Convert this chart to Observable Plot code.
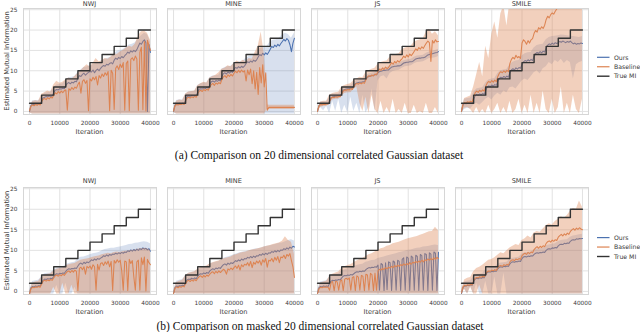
<!DOCTYPE html>
<html><head><meta charset="utf-8">
<script src="https://cdn.jsdelivr.net/npm/d3@7"></script>
<script src="https://cdn.jsdelivr.net/npm/@observablehq/plot@0.6"></script>
<style>
body{margin:0;background:#fff;}
#root{position:relative;width:640px;height:332px;overflow:hidden;background:#fff;}
#root svg.plot{position:absolute;}
#overlay{position:absolute;left:0;top:0;}
</style></head><body><div id="root"></div>
<script>
// ---------- tick labels / categories ----------
const ESTIMATORS = ["NWJ", "MINE", "JS", "SMILE"];
const SERIES = ["Ours", "Baseline", "True MI"];
const X_TICKS = [0, 10000, 20000, 30000, 40000];
const Y_TICKS = [0, 5, 10, 15, 20, 25];
const CAPTIONS = ["(a) Comparison on 20 dimensional correlated Gaussian dataset",
                  "(b) Comparison on masked 20 dimensional correlated Gaussian dataset"];
// iterations: mean curves every 500, confidence bands every 1000
const ITER = d3.range(0, 40001, 500);
const ITER_B = d3.range(0, 40001, 1000);
// true MI staircase
const TRUE_ITER = [0, 4000, 8000, 12000, 16000, 20000, 24000, 28000, 32000, 36000, 40000];
const TRUE_MI   = [2, 4, 6, 8, 10, 12, 14, 16, 18, 20, 20];

const FLOOR = [-0.3,-0.6,-0.6,-0.6, -0.6,-0.6,-0.6,-0.6, -0.6,-0.6,-0.6,-0.6, -0.6,-0.6,-0.6,-0.6,
  -0.6,-0.6,-0.6,-0.6, -0.6,-0.6,-0.6,-0.6, -0.6,-0.6,-0.6,-0.6, -0.6,-0.6,-0.6,-0.6,
  -0.6,-0.6,-0.6,-0.6, -0.6,-0.6,-0.6,-0.6, -0.6];

// ===== (a) top row =====
const T_NWJ_OURS = [0.0,1.5,1.8,1.7,1.9,1.8,1.9,1.8, 2.6,3.3,3.5,3.7,3.6,3.8,3.7,3.8,
  4.6,5.2,5.4,5.3,5.6,5.5,5.7,5.6, 6.4,6.9,7.1,6.8,7.2,7.0,7.4,7.3,
  8.2,8.8,8.6,9.1,9.4,8.9,9.3,9.6, 9.8,9.7,10.2,9.5,10.1,10.4,10.0,10.6,
  11.0,11.3,11.1,11.6,11.4,11.8,12.0,11.7, 12.6,13.1,12.8,13.3,13.0,13.5,13.2,13.7,
  14.1,14.6,14.3,14.9,14.6,15.0,14.7,15.2, 16.0,16.8,16.5,17.2,17.6,16.9,0.0,16.5, 14.5];
const T_NWJ_OURS_HI = [0.5,2.6,2.7,2.6, 3.5,4.5,4.6,4.7, 5.8,6.5,6.6,6.8, 7.6,8.3,8.4,8.6,
  9.6,10.2,10.8,10.9, 11.2,11.5,11.7,11.9, 12.5,12.8,13.1,13.4, 14.2,14.8,14.9,15.2,
  15.8,16.3,16.5,16.9, 17.8,18.6,19.2,18.9, 17.0];
const T_NWJ_BASE = [0.2,1.3,1.6,1.4,1.7,1.5,1.8,1.6, 2.4,3.0,3.2,2.9,3.4,3.1,3.5,3.3,
  4.0,4.6,4.3,4.9,4.5,5.0,4.6,5.1, 5.3,0.3,5.6,5.2,5.9,5.4,6.0,5.7,
  6.6,7.2,4.5,7.4,7.8,6.9,7.6,0.2, 8.0,7.5,8.4,7.8,8.6,6.5,8.8,8.2,
  9.2,8.6,9.5,8.9,9.8,0.2,10.1,9.4, 0.5,10.6,11.2,10.3,11.6,10.8,12.0,0.3,
  11.8,12.4,0.2,12.8,13.2,12.5,13.6,12.9, 0.3,14.5,15.8,0.4,17.2,0.1,17.5,16.2, 15.0];
const T_NWJ_BASE_HI = [0.6,2.4,2.6,2.5, 4.2,4.6,5.0,4.8, 6.5,7.4,6.9,7.2, 7.8,8.2,8.0,8.6,
  9.4,10.0,10.8,11.5, 11.0,11.8,13.0,12.2, 12.4,13.0,12.8,13.4, 14.2,14.0,14.6,15.0,
  15.6,16.0,15.8,16.6, 18.5,19.6,19.8,19.2, 17.5];

const T_MINE_OURS = [0.0,1.6,1.9,1.8,2.0,1.9,2.0,1.9, 2.8,3.6,3.8,3.7,3.9,3.8,3.9,3.8,
  4.8,5.5,5.6,5.5,5.8,5.6,5.9,5.7, 6.6,7.3,7.5,7.2,7.6,7.4,7.7,7.5,
  8.6,9.3,9.5,9.2,9.7,9.4,9.8,9.6, 10.4,10.8,10.6,11.0,10.7,11.1,10.8,11.2,
  11.8,12.2,12.0,12.4,12.1,12.6,12.3,12.7, 13.4,14.0,13.7,14.3,13.9,14.4,14.0,14.6,
  15.3,16.0,15.7,16.3,15.9,16.5,16.1,16.7, 17.2,17.7,17.3,17.9,17.5,16.4,14.7,16.8, 18.0];
const T_MINE_OURS_HI = [0.4,2.7,2.9,2.8, 4.2,4.8,4.9,4.9, 6.4,6.8,7.0,7.0, 8.3,8.7,8.8,8.9,
  10.4,10.8,11.0,11.1, 11.8,12.1,12.2,12.4, 13.1,13.5,13.6,13.9, 15.2,15.6,15.8,16.0,
  17.1,17.5,17.6,18.0, 18.8,19.2,18.9,18.0, 19.3];
const T_MINE_BASE = [0.1,1.4,1.7,1.6,1.8,1.7,1.9,1.7, 2.6,3.3,3.5,3.3,3.6,3.4,3.7,3.5,
  4.4,5.0,5.2,4.9,5.4,5.1,5.5,5.2, 6.0,6.6,6.9,6.4,7.0,6.7,7.1,6.8,
  7.9,8.5,8.8,8.3,9.0,8.6,9.1,8.7, 9.4,9.9,9.5,10.1,9.6,10.2,9.7,10.0,
  7.5,10.2,9.0,10.4,6.8,10.0,5.5,9.6, 4.2,10.8,7.0,11.5,6.0,9.5,0.3,1.0,
  1.0,1.0,1.0,1.0,1.0,1.0,1.0,1.0, 1.0,1.0,1.0,1.0,1.0,1.0,1.0,1.0, 1.0];
const T_MINE_BASE_HI = [0.5,2.5,2.8,2.7, 4.3,4.8,4.9,5.0, 6.3,6.8,7.2,7.0, 8.2,8.6,8.9,9.5,
  10.4,10.6,11.2,11.0, 11.8,12.4,12.0,12.6, 12.2,13.0,12.8,14.5, 16.0,19.5,14.0,1.6,
  1.5,1.5,1.5,1.5, 1.5,1.5,1.5,1.5, 1.5];
const T_MINE_BASE_LO = [-0.2,-0.6,-0.6,-0.6, -0.6,-0.6,-0.6,-0.6, -0.6,-0.6,-0.6,-0.6, -0.6,-0.6,-0.6,-0.6,
  -0.6,-0.6,-0.6,-0.6, -0.6,-0.6,-0.6,-0.6, -0.6,-0.6,-0.6,-0.6, -0.6,-0.6,-0.6,0.5,
  0.5,0.5,0.5,0.5, 0.5,0.5,0.5,0.5, 0.5];

const T_JS_OURS = [0.0,1.5,1.8,1.8,1.9,1.9,1.9,1.9, 2.6,3.4,3.6,3.7,3.7,3.8,3.8,3.8,
  4.5,5.2,5.4,5.5,5.6,5.6,5.7,5.7, 6.3,6.8,7.0,7.1,7.2,7.2,7.3,7.3,
  7.9,8.4,8.6,8.7,8.8,8.9,9.0,9.0, 9.5,9.8,9.9,10.0,10.1,10.1,10.2,10.2,
  10.6,10.9,11.0,11.1,11.1,11.2,11.2,11.3, 11.6,11.9,12.0,12.1,12.1,12.2,12.2,12.3,
  12.6,12.9,13.0,13.1,13.1,13.2,13.2,13.3, 13.6,13.9,14.0,14.1,14.2,14.3,14.4,14.5, 14.7];
const T_JS_OURS_HI = [0.3,2.3,2.4,2.4, 3.4,4.2,4.3,4.3, 5.3,6.0,6.2,6.3, 7.1,7.6,7.8,7.9,
  8.7,9.2,9.4,9.6, 10.2,10.5,10.7,10.8, 11.3,11.6,11.7,11.8, 12.3,12.6,12.7,12.8,
  13.3,13.6,13.7,13.8, 14.3,14.6,14.8,15.0, 15.3];
const T_JS_OURS_LO = [-0.3,1.0,0.2,1.2, -0.5,2.5,0.0,3.0, -0.5,1.5,-0.3,3.5, 0.0,2.0,-0.5,4.0,
  -0.4,1.0,5.5,0.0, 7.5,8.5,8.8,8.0, 9.3,9.8,10.0,10.1, 10.6,11.0,11.1,11.2,
  11.7,12.0,12.1,12.2, 12.6,13.0,13.1,13.2, 13.5];
const T_JS_BASE = [0.0,1.4,1.7,1.6,1.8,1.7,1.9,1.8, 2.5,3.3,3.5,3.4,3.6,3.5,3.7,3.6,
  4.4,5.0,5.3,5.2,5.4,5.3,5.6,5.4, 6.1,6.6,6.9,6.7,7.0,6.8,7.1,6.9,
  7.8,8.5,8.8,8.6,9.0,8.7,9.2,9.0, 9.8,10.4,10.1,10.7,10.3,10.9,10.5,10.8,
  11.4,12.0,11.6,12.3,11.9,12.5,12.1,12.6, 13.0,13.6,13.2,13.9,13.4,14.1,13.7,14.2,
  14.8,15.4,15.0,15.7,15.3,15.9,15.5,16.2, 16.8,17.3,16.9,12.3,17.4,16.8,17.6,17.1, 17.2];
const T_JS_BASE_HI = [0.4,2.3,2.5,2.5, 4.0,4.4,4.6,4.7, 6.0,6.4,6.6,6.8, 7.6,8.0,8.4,8.3,
  9.6,10.0,10.4,10.6, 11.6,12.0,12.3,12.4, 13.4,13.8,14.0,14.2, 15.2,15.6,15.8,16.1,
  17.0,17.4,17.6,18.0, 19.5,20.2,19.0,19.6, 18.6];
const T_JS_BASE_LO = [-0.2,1.0,1.2,1.2, 2.0,2.8,3.0,3.0, 3.8,4.4,4.6,4.6, 5.4,6.0,2.0,0.0,
  3.5,-0.5,4.0,0.5, -0.5,2.5,-0.5,1.0, -0.5,3.0,-0.5,0.5, -0.5,2.0,-0.5,-0.5,
  1.5,-0.5,0.0,-0.5, 2.0,-0.5,-0.5,1.0, -0.5];

const T_SMILE_OURS = [0.0,1.7,2.0,1.9,2.1,2.0,2.1,2.0, 3.0,3.9,4.2,4.0,4.3,4.1,4.4,4.2,
  5.2,6.0,6.3,6.1,6.5,6.2,6.6,6.4, 7.4,8.1,8.4,8.2,8.6,8.3,8.7,8.4,
  9.5,10.2,10.5,10.2,10.7,10.4,10.8,10.6, 11.5,12.2,12.5,12.3,12.7,12.4,12.8,12.5,
  13.5,14.2,14.5,14.3,14.7,14.4,14.8,14.6, 15.6,16.3,16.6,16.4,16.8,16.5,16.9,16.7,
  16.9,17.2,17.0,17.3,17.1,16.9,17.2,17.0, 17.3,16.9,16.6,16.8,16.5,16.7,16.6,16.8, 16.7];
const T_SMILE_OURS_HI = [0.5,3.0,3.2,3.3, 4.6,5.5,5.7,5.8, 7.0,7.7,8.0,8.1, 9.3,10.0,10.2,10.3,
  11.5,12.1,12.4,12.5, 13.6,14.2,14.4,14.5, 15.6,16.2,16.4,16.5, 17.6,18.2,18.4,18.5,
  18.6,18.8,18.7,18.6, 18.5,18.4,18.3,18.2, 18.4];
const T_SMILE_OURS_LO = [-0.3,0.5,0.8,0.6, 1.5,2.0,1.5,2.2, 3.0,3.5,2.8,3.8, 4.5,4.0,5.0,4.6,
  5.8,6.0,5.5,6.5, 7.5,8.0,7.6,8.5, 9.5,10.0,9.2,10.5, 11.0,12.0,11.5,12.5,
  12.0,12.8,11.8,12.5, 12.0,8.0,11.5,12.0, 12.3];
const T_SMILE_BASE = [0.0,1.8,2.2,2.1,2.4,2.2,2.5,2.3, 3.5,4.6,5.0,4.7,5.2,4.9,5.3,5.0,
  6.2,7.0,7.4,7.1,7.6,7.2,7.7,7.3, 8.6,9.4,9.8,9.5,10.0,9.6,10.1,9.8,
  11.8,12.8,13.3,12.9,13.8,13.2,13.5,13.0, 16.8,17.6,17.2,16.5,17.4,16.8,17.6,17.9,
  19.2,19.9,19.5,20.6,20.2,20.8,20.4,21.2, 22.6,23.4,23.0,23.8,24.2,23.9,24.6,25.2,
  26.0,26.8,27.2,27.8,28.2,28.6,29.0,29.4, 29.8,30.2,30.6,31.0,31.4,31.8,32.2,32.6, 33.0];
const T_SMILE_BASE_HI = [0.5,3.2,3.5,3.8, 6.0,9.0,12.0,8.5, 16.0,13.0,19.0,22.0, 18.0,24.0,26.0,21.0,
  27.0,26.0,28.0,29.0, 30,30,30,30, 30,30,30,30, 30,30,30,30, 30,30,30,30, 30,30,30,30, 30];
const T_SMILE_BASE_LO = [-0.2,0.8,1.0,0.5, -0.5,1.0,-0.5,0.5, -0.5,1.5,-0.5,0.5, 2.0,-0.5,1.0,-0.5,
  2.5,-0.5,0.5,3.0, -0.5,1.5,-0.5,4.0, -0.5,2.0,-0.5,5.0, 0.5,-0.5,3.0,-0.5,
  1.0,6.0,-0.5,2.0, -0.5,4.0,0.5,-0.5, 3.0];

// ===== (b) bottom row =====
const B_NWJ_OURS = [-0.5,0.9,1.2,1.1,1.3,1.2,1.4,1.3, 2.0,2.7,3.0,2.9,3.1,3.0,3.2,3.1,
  3.6,4.1,4.3,4.2,4.4,4.3,4.5,4.4, 4.9,5.3,5.5,5.4,5.6,5.5,5.7,5.6,
  6.2,6.7,6.9,6.6,7.1,6.8,7.2,7.0, 7.3,7.7,7.5,7.9,7.6,8.0,7.8,8.1,
  8.3,8.7,8.5,8.9,8.6,9.0,8.8,9.1, 9.0,9.3,9.1,9.4,9.2,9.5,9.3,9.6,
  9.5,9.9,9.7,10.1,9.8,10.2,9.9,10.3, 10.0,10.4,10.2,10.6,10.3,10.5,10.1,10.4, 9.8];
const B_NWJ_OURS_HI = [0.2,2.4,2.6,2.7, 3.6,4.3,4.4,4.5, 5.3,5.6,5.8,5.9, 6.5,6.8,7.0,7.1,
  7.9,8.3,8.4,8.6, 8.9,9.2,9.3,9.5, 9.9,10.2,10.3,10.5, 10.5,10.7,10.8,11.0,
  11.2,11.4,11.5,11.7, 11.8,12.0,12.1,12.0, 11.6];
const B_NWJ_OURS_LO = [-0.7,-0.6,-0.6,-0.6, -0.6,-0.6,-0.6,-0.6, -0.6,1.5,-0.6,-0.6, 2.0,-0.6,-0.6,1.0,
  -0.6,-0.6,-0.6,-0.6, -0.6,-0.6,-0.6,-0.6, -0.6,-0.6,-0.6,-0.6, -0.6,-0.6,-0.6,-0.6,
  -0.6,-0.6,-0.6,-0.6, -0.6,-0.6,-0.6,-0.6, -0.6];
const B_NWJ_BASE = [-0.6,0.7,1.0,0.9,1.1,1.0,1.2,1.0, 1.8,2.5,2.7,2.5,2.8,2.6,2.9,2.7,
  3.3,3.8,4.0,3.7,4.1,3.8,4.2,3.9, 4.4,4.8,5.0,4.6,5.1,4.7,5.2,4.9,
  0.2,5.6,5.9,5.3,6.0,4.2,6.1,5.7, 6.2,5.4,6.5,6.0,0.3,6.6,5.2,6.8,
  7.0,6.3,7.2,6.6,7.4,6.0,7.3,0.2, 7.5,6.9,7.7,7.1,7.6,5.0,0.3,7.4,
  7.2,0.2,7.8,6.8,7.5,3.5,0.3,7.2, 7.6,0.3,8.2,6.5,8.4,0.1,7.8,7.0, 6.5];
const B_NWJ_BASE_HI = [0.0,2.0,2.3,2.4, 3.4,4.0,4.2,4.3, 5.0,5.4,5.6,5.7, 6.2,6.5,6.7,6.8,
  7.2,7.6,7.8,7.9, 8.1,8.3,8.5,8.6, 8.9,9.1,9.3,9.2, 9.5,9.6,9.5,9.7,
  9.8,9.9,10.0,10.1, 10.3,10.4,10.5,10.4, 10.0];
const B_NWJ_BASE_LO = [-0.7,-0.6,-0.6,-0.6, -0.6,-0.6,-0.6,-0.6, 1.0,-0.6,-0.6,2.0, -0.6,-0.6,1.5,-0.6,
  -0.6,-0.6,-0.6,-0.6, -0.6,-0.6,-0.6,-0.6, -0.6,-0.6,-0.6,-0.6, -0.6,-0.6,-0.6,-0.6,
  -0.6,-0.6,-0.6,-0.6, -0.6,-0.6,-0.6,-0.6, -0.6];

const B_MINE_OURS = [-0.5,1.0,1.3,1.2,1.4,1.3,1.5,1.4, 2.2,2.8,3.0,2.9,3.2,3.0,3.3,3.1,
  3.7,4.1,4.3,4.2,4.5,4.3,4.6,4.4, 5.0,5.3,5.5,5.3,5.7,5.5,5.8,5.6,
  6.1,6.5,6.7,6.4,6.9,6.6,7.0,6.8, 7.1,7.5,7.3,7.7,7.4,7.9,7.6,8.0,
  7.9,8.3,8.1,8.5,8.2,8.6,8.3,8.7, 8.6,9.0,8.8,9.2,8.9,9.3,9.0,9.4,
  9.3,9.7,9.5,9.9,9.6,10.0,9.7,10.1, 10.0,10.4,10.2,10.6,10.3,10.8,10.5,11.0, 10.8];
const B_MINE_OURS_HI = [0.2,2.5,2.7,2.9, 3.9,4.4,4.6,4.7, 5.3,5.7,5.9,6.0, 6.6,6.9,7.1,7.3,
  7.8,8.2,8.4,8.6, 8.9,9.2,9.4,9.6, 9.7,9.9,10.1,10.3, 10.4,10.6,10.8,11.0,
  11.1,11.3,11.5,11.7, 11.8,12.1,12.4,12.6, 12.3];
const B_MINE_BASE = [-0.6,0.8,1.1,0.9,1.2,1.0,1.3,1.1, 1.9,2.5,2.7,2.4,2.8,2.5,2.9,2.6,
  3.2,3.6,3.8,3.4,3.9,3.5,4.0,3.7, 4.2,4.6,4.8,4.3,4.9,4.5,5.0,4.6,
  5.0,5.4,5.1,4.2,5.5,5.2,5.7,5.3, 5.8,6.2,5.6,6.4,5.2,6.5,6.0,6.6,
  6.4,7.0,6.2,7.3,5.8,7.1,6.6,7.4, 6.9,7.5,6.4,7.7,7.1,8.0,5.9,7.6,
  7.4,8.0,7.2,8.3,7.6,8.5,7.0,8.4, 8.2,8.8,8.0,9.0,8.6,9.2,7.5,6.0, 3.4];
const B_MINE_BASE_HI = [0.0,2.2,2.5,2.7, 3.8,4.4,4.6,4.8, 5.4,5.8,6.0,6.2, 6.7,7.0,7.2,7.4,
  7.8,8.0,8.2,8.4, 8.8,9.0,9.3,9.5, 9.6,9.9,10.1,10.2, 10.4,10.6,10.8,11.0,
  11.2,11.4,11.6,11.8, 12.2,13.3,12.4,12.0, 9.0];

const B_JS_OURS = [-0.5,0.9,1.2,1.1,1.3,1.2,1.3,1.2, 2.0,2.5,2.7,2.6,2.8,2.7,2.9,2.8,
  3.3,3.7,3.9,3.8,4.0,3.9,4.1,4.0, 4.3,4.6,4.8,4.7,4.9,4.8,5.0,4.9,
  5.3,5.6,5.8,5.7,5.9,5.8,6.0,5.9, 6.4,0.3,6.8,6.5,0.2,7.0,0.4,7.2,
  7.0,0.2,7.4,7.1,0.3,7.6,7.3,0.2, 7.8,8.2,0.3,8.4,8.1,0.2,8.6,8.3,
  0.3,8.8,8.5,0.2,9.0,8.7,0.3,9.2, 9.0,0.2,9.4,9.1,0.3,9.6,9.3,0.2, 9.5];
const B_JS_OURS_HI = [0.2,2.3,2.5,2.6, 3.5,4.0,4.2,4.3, 5.0,5.3,5.5,5.6, 6.0,6.3,6.5,6.6,
  7.1,7.3,7.5,7.6, 8.0,8.2,8.4,8.6, 8.8,9.0,9.2,9.4, 9.6,9.8,10.0,10.1,
  10.3,10.5,10.6,10.8, 10.9,11.0,11.2,11.3, 11.2];
const B_JS_BASE = [-0.6,0.7,1.0,0.9,1.1,1.0,1.1,1.0, 0.3,2.2,2.4,0.2,2.5,2.3,0.3,2.5,
  2.8,0.2,3.0,3.2,2.9,3.3,0.3,3.4, 3.6,0.2,3.8,3.5,0.3,3.9,3.7,0.2,
  4.2,4.0,0.3,4.4,4.1,0.2,4.5,0.3, 5.0,5.4,5.2,5.6,5.3,5.8,5.5,5.9,
  5.7,6.1,5.8,6.3,6.0,6.4,6.1,6.5, 6.3,6.7,6.4,6.8,6.5,7.0,6.6,7.1,
  6.9,7.3,7.0,7.4,7.1,7.6,7.2,7.7, 7.5,7.9,7.6,8.0,7.7,8.2,7.8,8.3, 8.0];
const B_JS_BASE_HI = [0.0,2.0,2.3,2.5, 3.6,4.2,4.5,4.7, 5.6,6.0,6.3,6.5, 7.0,7.4,7.8,8.0,
  8.5,8.9,9.2,9.6, 10.0,10.4,10.6,11.0, 11.2,11.6,11.8,12.0, 12.3,12.6,12.8,13.0,
  13.2,13.4,13.7,13.9, 14.2,14.5,14.6,15.6, 14.8];

const B_SMILE_OURS = [-0.5,1.0,1.4,1.3,1.5,1.4,1.6,1.5, 2.4,3.0,3.2,3.1,3.3,3.2,3.4,3.3,
  4.1,4.6,4.8,4.7,4.9,4.8,5.0,4.9, 5.5,5.9,6.0,5.9,6.1,6.0,6.2,6.1,
  6.7,7.1,7.2,7.1,7.3,7.2,7.4,7.3, 8.0,8.4,8.5,8.4,8.6,8.5,8.7,8.6,
  9.0,9.3,9.4,9.3,9.5,9.4,9.6,9.5, 10.0,10.3,10.4,10.3,10.6,10.5,10.7,10.6,
  11.1,11.4,11.5,11.4,11.7,11.6,11.8,11.7, 12.2,12.5,12.6,12.5,12.8,12.7,12.9,12.8, 12.9];
const B_SMILE_OURS_HI = [0.2,2.3,2.5,2.6, 3.6,4.1,4.2,4.3, 5.4,5.7,5.8,5.9, 6.6,6.9,7.0,7.1,
  7.8,8.1,8.2,8.3, 9.1,9.4,9.5,9.6, 10.1,10.3,10.4,10.5, 11.1,11.3,11.5,11.6,
  12.1,12.4,12.5,12.6, 13.2,13.5,13.6,13.8, 13.9];
const B_SMILE_OURS_LO = [-0.7,0.5,-0.6,1.2, -0.6,2.0,-0.6,-0.6, 2.5,-0.6,-0.6,3.5, -0.6,-0.6,4.5,-0.6,
  -0.6,-0.6,-0.6,-0.6, -0.6,-0.6,-0.6,-0.6, -0.6,-0.6,-0.6,-0.6, -0.6,-0.6,-0.6,-0.6,
  -0.6,-0.6,-0.6,-0.6, -0.6,-0.6,-0.6,-0.6, -0.6];
const B_SMILE_BASE = [-0.4,1.1,1.5,1.4,1.6,1.5,1.7,1.6, 2.6,3.2,3.4,3.3,3.6,3.4,3.7,3.5,
  4.3,4.8,5.0,4.9,5.2,5.0,5.3,5.1, 5.8,6.2,6.3,6.1,6.5,6.3,6.6,6.4,
  7.2,7.6,7.7,7.5,7.9,7.7,8.0,7.8, 8.7,9.1,9.3,9.0,9.5,9.2,9.6,9.4,
  10.2,10.6,10.9,10.5,11.0,10.7,11.1,10.9, 11.7,12.1,12.3,12.0,12.5,12.2,12.6,12.4,
  13.2,13.6,13.9,13.5,14.0,13.7,14.2,13.9, 14.6,15.0,15.3,14.9,15.4,15.1,15.5,15.2, 15.0];
const B_SMILE_BASE_HI = [0.3,2.8,3.2,3.4, 4.8,5.6,5.9,6.4, 7.0,7.6,7.8,8.2, 8.8,9.4,9.2,9.9,
  10.6,11.0,11.4,11.2, 12.4,12.8,13.5,13.0, 14.2,14.6,14.4,15.2, 16.0,16.5,16.2,17.0,
  17.6,18.2,17.8,18.5, 19.5,20.2,20.0,22.0, 20.5];
const B_SMILE_BASE_LO = [-0.5,0.5,-0.6,1.0, -0.6,-0.6,1.5,-0.6, -0.6,-0.6,-0.6,-0.6, -0.6,-0.6,-0.6,-0.6,
  -0.6,-0.6,-0.6,-0.6, -0.6,-0.6,-0.6,-0.6, -0.6,-0.6,-0.6,-0.6, -0.6,-0.6,-0.6,-0.6,
  -0.6,-0.6,-0.6,-0.6, -0.6,-0.6,-0.6,-0.6, -0.6];

// ---------- style ----------
const BLUE = "#4c72b0", ORANGE = "#dd8452", BLACK = "#333333";
const ROWS = [
  {top: 8, h: 106, panels: [
    [T_NWJ_OURS, T_NWJ_OURS_HI, FLOOR, T_NWJ_BASE, T_NWJ_BASE_HI, FLOOR],
    [T_MINE_OURS, T_MINE_OURS_HI, FLOOR, T_MINE_BASE, T_MINE_BASE_HI, T_MINE_BASE_LO],
    [T_JS_OURS, T_JS_OURS_HI, T_JS_OURS_LO, T_JS_BASE, T_JS_BASE_HI, T_JS_BASE_LO],
    [T_SMILE_OURS, T_SMILE_OURS_HI, T_SMILE_OURS_LO, T_SMILE_BASE, T_SMILE_BASE_HI, T_SMILE_BASE_LO]]},
  {top: 187, h: 107, panels: [
    [B_NWJ_OURS, B_NWJ_OURS_HI, B_NWJ_OURS_LO, B_NWJ_BASE, B_NWJ_BASE_HI, B_NWJ_BASE_LO],
    [B_MINE_OURS, B_MINE_OURS_HI, FLOOR, B_MINE_BASE, B_MINE_BASE_HI, FLOOR],
    [B_JS_OURS, B_JS_OURS_HI, FLOOR, B_JS_BASE, B_JS_BASE_HI, FLOOR],
    [B_SMILE_OURS, B_SMILE_OURS_HI, B_SMILE_OURS_LO, B_SMILE_BASE, B_SMILE_BASE_HI, B_SMILE_BASE_LO]]}
];
const LEFTS = [23, 167, 311, 455];
const PW = 133;
const ML = 22, MR = 4, MT = 4, MB = 14;

const root = document.getElementById("root");
const lineRows = arr => ITER.map((x, i) => ({x, y: arr[i]})).filter(d => d.y !== undefined);
const bandRows = (lo, hi) => ITER_B.map((x, i) => ({x, lo: lo[i], hi: hi[i]})).filter(d => d.lo !== undefined && d.hi !== undefined);
const trueRows = TRUE_ITER.map((x, i) => ({x, y: TRUE_MI[i]}));

ROWS.forEach((row, r) => {
  row.panels.forEach((p, c) => {
    const [oM, oH, oL, bM, bH, bL] = p;
    const showY = c === 0;
    const svg = Plot.plot({
      width: PW + ML + MR, height: row.h + MT + MB,
      marginLeft: ML, marginRight: MR, marginTop: MT, marginBottom: MB,
      style: {fontFamily: "'DejaVu Sans', sans-serif", fontSize: "5.8px", color: "#3a3a3a", background: "transparent", overflow: "visible"},
      x: {domain: [-2000, 42000]},
      y: {domain: [-0.75, 25.3], axis: showY ? undefined : null},
      marks: [
        Plot.gridX(X_TICKS, {stroke: "#e2e2e2", strokeOpacity: 1, strokeWidth: 1}),
        Plot.gridY(Y_TICKS, {stroke: "#e2e2e2", strokeOpacity: 1, strokeWidth: 1}),
        Plot.line(lineRows(oM), {x: "x", y: "y", stroke: BLUE, strokeWidth: 1.05, clip: true}),
        Plot.areaY(bandRows(oL, oH), {x: "x", y1: "lo", y2: "hi", fill: BLUE, fillOpacity: 0.22, clip: true}),
        Plot.line(lineRows(bM), {x: "x", y: "y", stroke: ORANGE, strokeWidth: 1.05, clip: true}),
        Plot.areaY(bandRows(bL, bH), {x: "x", y1: "lo", y2: "hi", fill: ORANGE, fillOpacity: 0.38, clip: true}),
        Plot.line(trueRows, {x: "x", y: "y", curve: "step-after", stroke: BLACK, strokeWidth: 1.4}),
        Plot.frame({stroke: "#d6d6d6", strokeWidth: 1}),
        Plot.axisX(X_TICKS, {tickSize: 0, tickPadding: 6, tickFormat: d3.format("d"), label: null}),
        showY ? Plot.axisY(Y_TICKS, {tickSize: 0, tickPadding: 6, label: null}) : null
      ]
    });
    svg.classList.add("plot");
    svg.style.left = (LEFTS[c] - ML) + "px";
    svg.style.top = (row.top - MT) + "px";
    root.appendChild(svg);
  });
});

// ---------- overlay text: titles, axis labels, legends, captions ----------
const ov = d3.select(root).append("svg").attr("id", "overlay").attr("width", 640).attr("height", 332)
  .style("font-family", "'DejaVu Sans', sans-serif").style("fill", "#3a3a3a");
ROWS.forEach((row, r) => {
  const bottom = row.top + row.h;
  const titleBase = r === 0 ? 5.6 : row.top - 6.3 + 2.4;
  ESTIMATORS.forEach((name, c) => {
    const cx = LEFTS[c] + PW / 2;
    ov.append("text").attr("x", cx).attr("y", titleBase).attr("text-anchor", "middle")
      .attr("font-size", 6.6).text(name);
    ov.append("text").attr("x", cx).attr("y", bottom + 18 + 2.4).attr("text-anchor", "middle")
      .attr("font-size", 6.6).text("Iteration");
  });
  const cy = row.top + row.h / 2;
  ov.append("text").attr("transform", `translate(${6.7 + 2.4},${cy}) rotate(-90)`).attr("text-anchor", "middle")
    .attr("font-size", 6.7).text("Estimated Mutual Information");
  // legend
  const ly0 = r === 0 ? 57.3 : 237.6;
  [BLUE, ORANGE, BLACK].forEach((col, k) => {
    const y = ly0 + k * 9.45;
    ov.append("line").attr("x1", 597).attr("x2", 609.5).attr("y1", y).attr("y2", y)
      .attr("stroke", col).attr("stroke-width", k === 2 ? 1.4 : 1.2);
    ov.append("text").attr("x", 614).attr("y", y + 2.2).attr("font-size", 6.2).text(SERIES[k]);
  });
});
ov.append("text").attr("x", 319).attr("y", 158.5).attr("text-anchor", "middle")
  .attr("font-family", "'Liberation Serif', 'Times New Roman', serif").attr("font-size", 11.5).style("fill", "#111")
  .text(CAPTIONS[0]);
ov.append("text").attr("x", 320).attr("y", 329.5).attr("text-anchor", "middle")
  .attr("font-family", "'Liberation Serif', 'Times New Roman', serif").attr("font-size", 11.5).style("fill", "#111")
  .text(CAPTIONS[1]);
</script></body></html>
